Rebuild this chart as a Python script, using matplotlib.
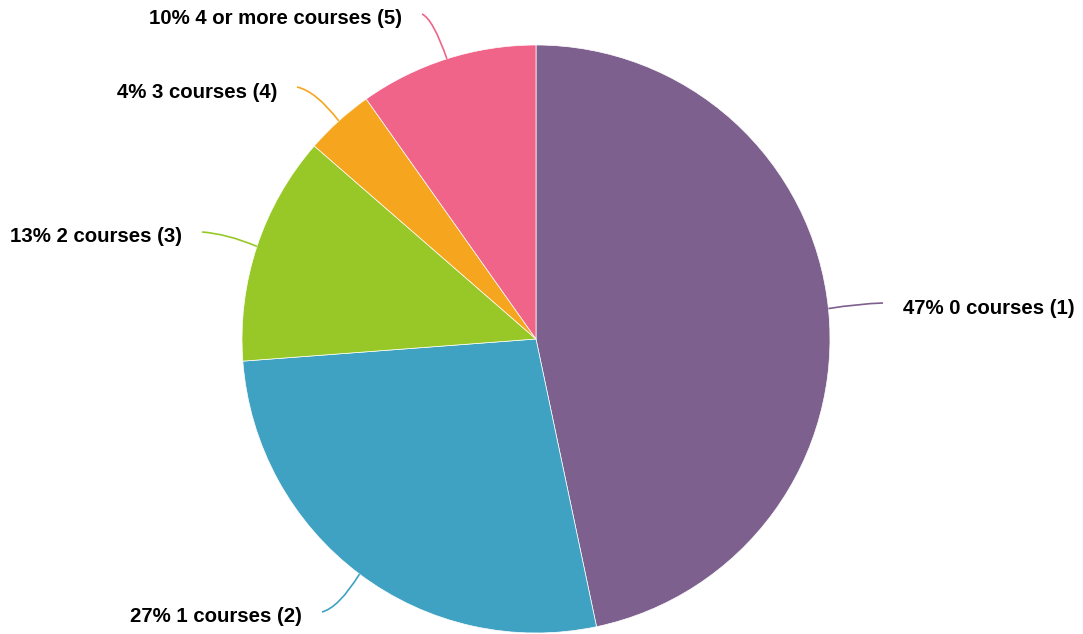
import numpy as np
import matplotlib
matplotlib.use("Agg")
import matplotlib.pyplot as plt
from matplotlib.path import Path
from matplotlib.patches import PathPatch

# data (share of respondents, %)
categories = ["0 courses (1)", "1 courses (2)", "2 courses (3)", "3 courses (4)", "4 or more courses (5)"]
values = [46.7, 27.1, 12.6, 3.8, 9.8]
colors = ["#7d608d", "#40a2c2", "#97c827", "#f5a61e", "#f06489"]

# layout (pixel coordinates, y down): where each connector line ends
line_ends = [(883, 303), (322, 612), (202, 232), (297, 87), (422, 14)]

W, H = 1083, 634
fig = plt.figure(figsize=(W / 100, H / 100), dpi=100)
ax = fig.add_axes([0, 0, 1, 1])

cx, cy, r = 536, 339, 294
wedges, _ = ax.pie(values, colors=colors, startangle=-90, counterclock=True,
                   center=(cx, cy), radius=r,
                   wedgeprops=dict(edgecolor="white", linewidth=0.5))
ax.set_xlim(0, W)
ax.set_ylim(H, 0)
ax.set_aspect("equal")
ax.set_axis_off()

total = sum(values)
for w, cat, val, col, (ex, ey) in zip(wedges, categories, values, colors, line_ends):
    mid = np.deg2rad((w.theta1 + w.theta2) / 2)
    sx, sy = cx + r * np.cos(mid), cy + r * np.sin(mid)
    # curved connector: bends to horizontal at the label end
    ctrl = (ex + (sx - ex) * 0.45, ey + (sy - ey) * 0.12)
    path = Path([(sx, sy), ctrl, (ex, ey)], [Path.MOVETO, Path.CURVE3, Path.CURVE3])
    ax.add_patch(PathPatch(path, fill=False, edgecolor=col, linewidth=1.2))
    right = ex > cx
    label = f"{round(val / total * 100)}% {cat}"
    ax.text(ex + (20 if right else -20), ey + 5, label,
            ha="left" if right else "right", va="center",
            fontsize=14.7, fontweight="bold", family=["Liberation Sans", "DejaVu Sans"],
            color="black")

fig.savefig("out.png", dpi=100)
